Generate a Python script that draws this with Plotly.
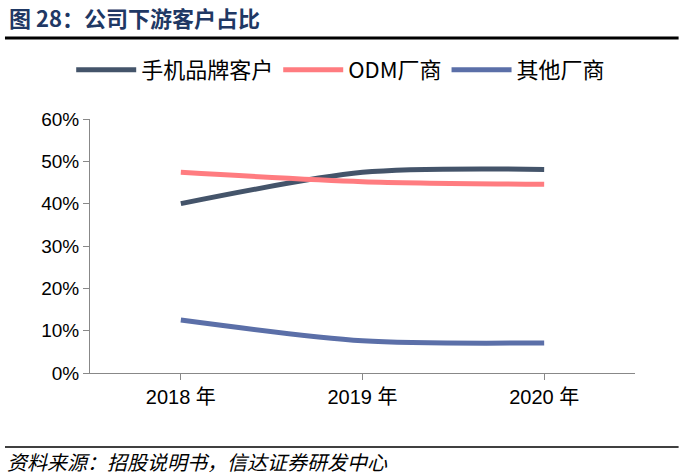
import plotly.graph_objects as go

years = ["2018 年", "2019 年", "2020 年"]
brand = [0.40, 0.474, 0.481]
odm = [0.474, 0.452, 0.446]
other = [0.125, 0.076, 0.071]

fig = go.Figure()
for name, vals, c in [("手机品牌客户", brand, "#44546A"), ("ODM厂商", odm, "#FF7C80"), ("其他厂商", other, "#5B6FA8")]:
    fig.add_trace(go.Scatter(x=years, y=vals, name=name, mode="lines",
                             line=dict(color=c, width=5, shape="spline", smoothing=0.8)))

fig.update_layout(
    width=686, height=476, margin=dict(l=90, r=51, t=119, b=103, autoexpand=False),
    plot_bgcolor="white", paper_bgcolor="white",
    font=dict(family="Noto Sans CJK SC, Arial", size=19, color="black"),
    legend=dict(orientation="h", x=0.46, xanchor="center", y=1.193, yanchor="middle",
                font=dict(size=22), itemwidth=60, tracegroupgap=0),
    xaxis=dict(type="category", range=[-0.5, 2.5], showline=True, linecolor="#888", linewidth=1,
               ticks="outside", tickcolor="#888", ticklen=6, showgrid=False, tickfont=dict(size=20, family="Arial, Noto Sans CJK SC")),
    yaxis=dict(range=[0, 0.6], dtick=0.1, tickformat=".0%", showline=True, linecolor="#888",
               ticks="outside", tickcolor="#888", ticklen=6, showgrid=False, zeroline=False,
               tickfont=dict(size=19, family="Arial")),
    showlegend=True,
)
fig.add_annotation(text="<b>图 28：公司下游客户占比</b>", xref="paper", yref="paper", x=-0.153, y=1.40,
                   xanchor="left", yanchor="middle", showarrow=False,
                   font=dict(size=22, color="#1F3864"))
fig.add_shape(type="line", xref="paper", yref="paper", x0=-0.156, x1=1.08, y0=1.319, y1=1.319, line=dict(color="black", width=3))
fig.add_shape(type="line", xref="paper", yref="paper", x0=-0.156, x1=1.08, y0=-0.291, y1=-0.291, line=dict(color="black", width=1.5))
fig.add_annotation(text="<i>资料来源：招股说明书，信达证券研发中心</i>", xref="paper", yref="paper", x=-0.156, y=-0.35,
                   xanchor="left", yanchor="middle", showarrow=False, font=dict(size=20, color="black"))
fig.write_html("out.html", post_script="document.body.style.margin='0';", config={"displayModeBar": False})
